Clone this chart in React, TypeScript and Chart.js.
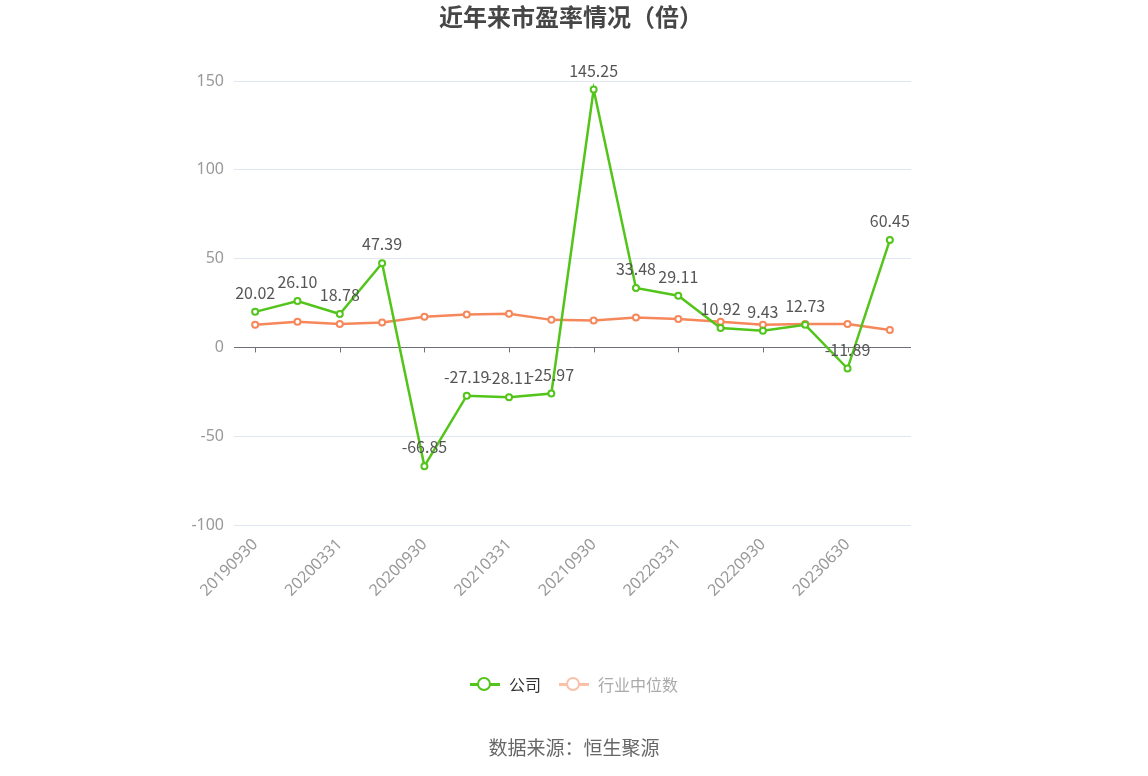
import { useEffect, useRef } from "react";
import { Chart, registerables, type Plugin } from "chart.js";

Chart.register(...registerables);

const periods = [
  "20190930", "20191231", "20200331", "20200630", "20200930", "20201231",
  "20210331", "20210630", "20210930", "20211231", "20220331", "20220630",
  "20220930", "20230331", "20230630", "20230930",
];
const company = [
  20.02, 26.1, 18.78, 47.39, -66.85, -27.19, -28.11, -25.97,
  145.25, 33.48, 29.11, 10.92, 9.43, 12.73, -11.89, 60.45,
];
const industryMedian = [
  12.7, 14.5, 13.2, 14.0, 17.3, 18.5, 18.9, 15.5,
  15.1, 16.8, 16.0, 14.5, 12.7, 13.2, 13.2, 9.8,
];
const yTicks = [-100, -50, 0, 50, 100, 150];

const GREEN = "#52c41a";
const ORANGE = "#f6875a";

// zero axis line with ticks under every shown label, and value labels over the company line
const decorations: Plugin<"line"> = {
  id: "decorations",
  beforeDatasetsDraw(chart) {
    const { ctx, chartArea } = chart;
    const x = chart.scales.x;
    const y0 = chart.scales.y.getPixelForValue(0);
    ctx.save();
    ctx.strokeStyle = "#6e7079";
    ctx.lineWidth = 1;
    ctx.beginPath();
    ctx.moveTo(chartArea.left, Math.round(y0) + 0.5);
    ctx.lineTo(chartArea.right, Math.round(y0) + 0.5);
    periods.forEach((_, i) => {
      if (i % 2) return;
      const px = Math.round(x.getPixelForValue(i)) + 0.5;
      ctx.moveTo(px, y0);
      ctx.lineTo(px, y0 + 5);
    });
    ctx.stroke();
    ctx.restore();
  },
  afterDatasetsDraw(chart) {
    const { ctx } = chart;
    const meta = chart.getDatasetMeta(0);
    ctx.save();
    ctx.font = "16px 'Noto Sans CJK SC', 'Noto Sans', sans-serif";
    ctx.fillStyle = "#555";
    ctx.textAlign = "center";
    ctx.textBaseline = "bottom";
    meta.data.forEach((pt, i) => {
      ctx.fillText(company[i].toFixed(2), pt.x, pt.y - 11);
    });
    ctx.restore();
  },
};

export default function App() {
  const canvasRef = useRef<HTMLCanvasElement | null>(null);

  useEffect(() => {
    document.body.style.margin = "0";
    if (!canvasRef.current) return;
    const chart = new Chart(canvasRef.current, {
      type: "line",
      data: {
        labels: periods,
        datasets: [
          {
            label: "公司",
            data: company,
            borderColor: GREEN,
            backgroundColor: "#fff",
            borderWidth: 2.5,
            pointRadius: 3,
            pointBorderWidth: 2,
            pointBorderColor: GREEN,
            pointBackgroundColor: "#fff",
            tension: 0,
          },
          {
            label: "行业中位数",
            data: industryMedian,
            borderColor: ORANGE,
            backgroundColor: "#fff",
            borderWidth: 2.5,
            pointRadius: 3,
            pointBorderWidth: 2,
            pointBorderColor: ORANGE,
            pointBackgroundColor: "#fff",
            tension: 0,
          },
        ],
      },
      options: {
        responsive: false,
        animation: false,
        layout: { padding: { left: 170, right: 237, top: 81, bottom: 151 } },
        plugins: {
          legend: { display: false },
          tooltip: { enabled: false },
        },
        scales: {
          x: {
            type: "category",
            offset: true,
            afterFit: (s) => { s.height = 100; },
            border: { display: false },
            grid: { display: false },
            ticks: {
              autoSkip: false,
              maxRotation: 45,
              minRotation: 45,
              padding: 2,
              color: "#999",
              font: { size: 16, family: "'Noto Sans', sans-serif" },
              callback: (_v, i) => (i % 2 === 0 ? periods[i] : null),
            },
          },
          y: {
            min: yTicks[0],
            max: yTicks[yTicks.length - 1],
            afterFit: (s) => { s.width = 64; },
            afterBuildTicks: (s) => { s.ticks = yTicks.map((v) => ({ value: v })); },
            border: { display: false },
            grid: {
              color: (c) => (c.tick && c.tick.value === 0 ? "transparent" : "#e0e6f1"),
              drawTicks: false,
            },
            ticks: {
              padding: 10,
              color: "#999",
              font: { size: 16, family: "'Noto Sans', sans-serif" },
            },
          },
        },
      },
      plugins: [decorations],
    });
    return () => chart.destroy();
  }, []);

  const legendLine = (color: string) => (
    <span style={{ position: "relative", display: "inline-block", width: 30, height: 14, marginRight: 9 }}>
      <span style={{ position: "absolute", left: 0, right: 0, top: 6, height: 3, background: color }} />
      <span
        style={{
          position: "absolute", left: 7, top: 0, width: 10, height: 10, borderRadius: "50%",
          border: `2.5px solid ${color}`, background: "#fff",
        }}
      />
    </span>
  );

  return (
    <div style={{ position: "relative", width: 1148, height: 776, fontFamily: "'Noto Sans CJK SC', sans-serif", background: "#fff" }}>
      <canvas ref={canvasRef} width={1148} height={776} style={{ position: "absolute", left: 0, top: 0 }} />
      <div style={{ position: "absolute", top: -2, left: 0, width: 1142, textAlign: "center", fontSize: 24, fontWeight: "bold", color: "#464646" }}>
        近年来市盈率情况（倍）
      </div>
      <div style={{ position: "absolute", top: 672, left: 0, width: 1148, display: "flex", justifyContent: "center", alignItems: "center", fontSize: 16 }}>
        <span style={{ display: "flex", alignItems: "center", color: "#333", marginRight: 18 }}>
          {legendLine(GREEN)}公司
        </span>
        <span style={{ display: "flex", alignItems: "center", color: "#aaa" }}>
          {legendLine("#fbc1a8")}行业中位数
        </span>
      </div>
      <div style={{ position: "absolute", top: 733, left: 0, width: 1148, textAlign: "center", fontSize: 19, color: "#666" }}>
        数据来源：恒生聚源
      </div>
    </div>
  );
}
